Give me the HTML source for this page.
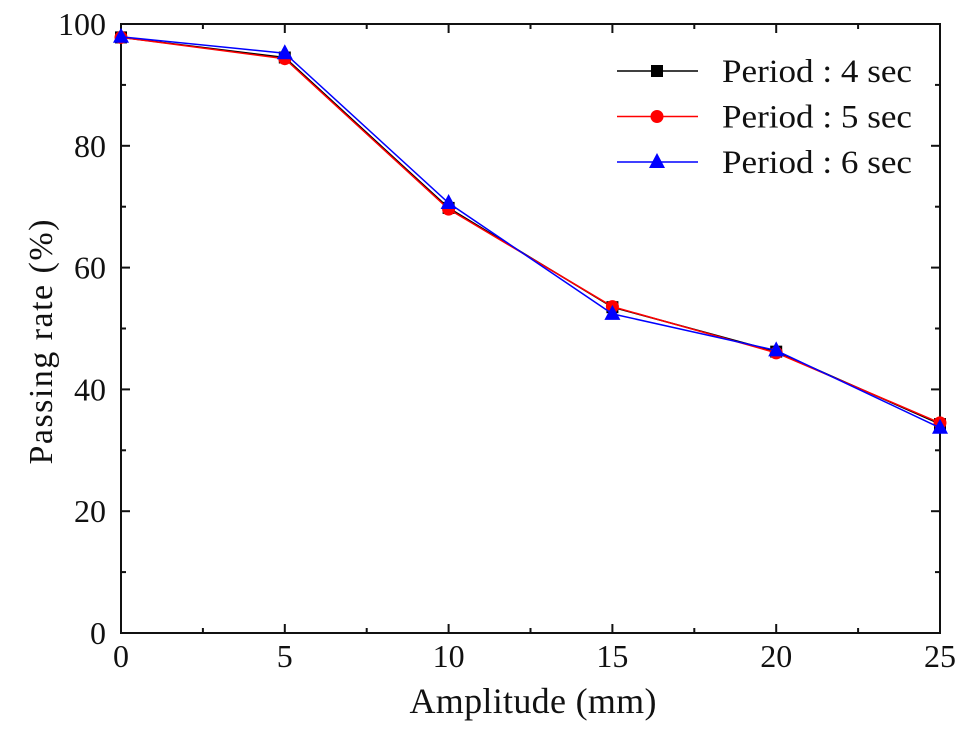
<!DOCTYPE html>
<html><head><meta charset="utf-8"><style>
html,body{margin:0;padding:0;background:#fff;}
svg text{font-family:"Liberation Serif",serif;fill:#111;}
</style></head><body>
<svg id="chart" width="969" height="731" viewBox="0 0 969 731" xmlns="http://www.w3.org/2000/svg">
<g id="axes"></g>
<g id="series"></g>
<g id="legend"></g>
<text x="533" y="713" font-size="36" text-anchor="middle" textLength="247">Amplitude (mm)</text>
<text transform="translate(52,342) rotate(-90)" font-size="34" text-anchor="middle" textLength="245">Passing rate (%)</text>
</svg>
<script>
const xValues = [0, 5, 10, 15, 20, 25];
const period4 = [97.8, 94.5, 69.8, 53.5, 46.2, 34.3];
const period5 = [97.8, 94.3, 69.6, 53.6, 46.0, 34.5];
const period6 = [97.9, 95.2, 70.6, 52.4, 46.4, 33.7];
const xTicks = [0, 5, 10, 15, 20, 25];
const yTicks = [0, 20, 40, 60, 80, 100];
const seriesLabels = ["Period : 4 sec", "Period : 5 sec", "Period : 6 sec"];

const NS = "http://www.w3.org/2000/svg";
const L = 121, R = 940, T = 24, B = 633;
const xs = v => L + (v - 0) / 25 * (R - L);
const ys = v => B - v / 100 * (B - T);
function mk(tag, attrs, parent) {
  const e = document.createElementNS(NS, tag);
  for (const k in attrs) e.setAttribute(k, attrs[k]);
  parent.appendChild(e);
  return e;
}
const axes = document.getElementById('axes');
const frame = mk('rect', {x: L, y: T, width: R - L, height: B - T, fill: 'none', stroke: '#111', 'stroke-width': 2}, axes);


for (let i = 0; i < xTicks.length; i++) {
  const v = xTicks[i], x = xs(v);
  [[B, B - 9], [T, T + 9]].forEach(([a, b]) => {
    const t = mk('line', {x1: x, x2: x, y1: a, y2: b, stroke: '#111', 'stroke-width': 2}, axes);
    
    
  });
  if (i < xTicks.length - 1) {
    const xm = xs(v + 2.5);
    [[B, B - 5], [T, T + 5]].forEach(([a, b]) => {
      const t = mk('line', {x1: xm, x2: xm, y1: a, y2: b, stroke: '#111', 'stroke-width': 2}, axes);
      
      
    });
  }
  const lb = mk('text', {x: x, y: 667, 'font-size': 32, 'text-anchor': 'middle'}, axes);
  lb.textContent = v;
  
  
}
for (let i = 0; i < yTicks.length; i++) {
  const v = yTicks[i], y = ys(v);
  [[L, L + 9], [R, R - 9]].forEach(([a, b]) => {
    const t = mk('line', {x1: a, x2: b, y1: y, y2: y, stroke: '#111', 'stroke-width': 2}, axes);
    
    
  });
  if (i < yTicks.length - 1) {
    const ym = ys(v + 10);
    [[L, L + 5], [R, R - 5]].forEach(([a, b]) => {
      const t = mk('line', {x1: a, x2: b, y1: ym, y2: ym, stroke: '#111', 'stroke-width': 2}, axes);
      
      
    });
  }
  const lb = mk('text', {x: 106, y: y + 11, 'font-size': 32, 'text-anchor': 'end'}, axes);
  lb.textContent = v;
  
  
}
function marker(g, type, x, y, color) {
  let m;
  if (type === 'square') m = mk('rect', {x: x - 6, y: y - 6, width: 12, height: 12, fill: color}, g);
  else if (type === 'circle') m = mk('circle', {cx: x, cy: y, r: 6.5, fill: color}, g);
  else m = mk('polygon', {points: `${x},${y - 9} ${x - 8},${y + 6} ${x + 8},${y + 6}`, fill: color}, g);
  
  
}
const seriesG = document.getElementById('series');
const legendG = document.getElementById('legend');
const defs = [[period4, '#000', 'square'], [period5, '#ff0000', 'circle'], [period6, '#0000ff', 'triangle']];
defs.forEach(([vals, color, mtype], si) => {
  const g = mk('g', {}, seriesG);
  
  
  const pts = vals.map((v, i) => xs(xValues[i]) + ',' + ys(v)).join(' ');
  const pl = mk('polyline', {points: pts, fill: 'none', stroke: color, 'stroke-width': 1.5}, g);
  
  
  vals.forEach((v, i) => marker(g, mtype, xs(xValues[i]), ys(v), color));
  const ly = 71 + si * 45.5;
  const lg = mk('g', {}, legendG);
  
  
  mk('line', {x1: 617, x2: 698, y1: ly, y2: ly, stroke: color, 'stroke-width': 1.5}, lg);
  marker(lg, mtype, 657, ly, color);
  const t = mk('text', {x: 722, y: ly + 11, 'font-size': 33, textLength: 190, lengthAdjust: 'spacingAndGlyphs'}, lg);
  t.textContent = seriesLabels[si];
});
</script>
</body></html>
